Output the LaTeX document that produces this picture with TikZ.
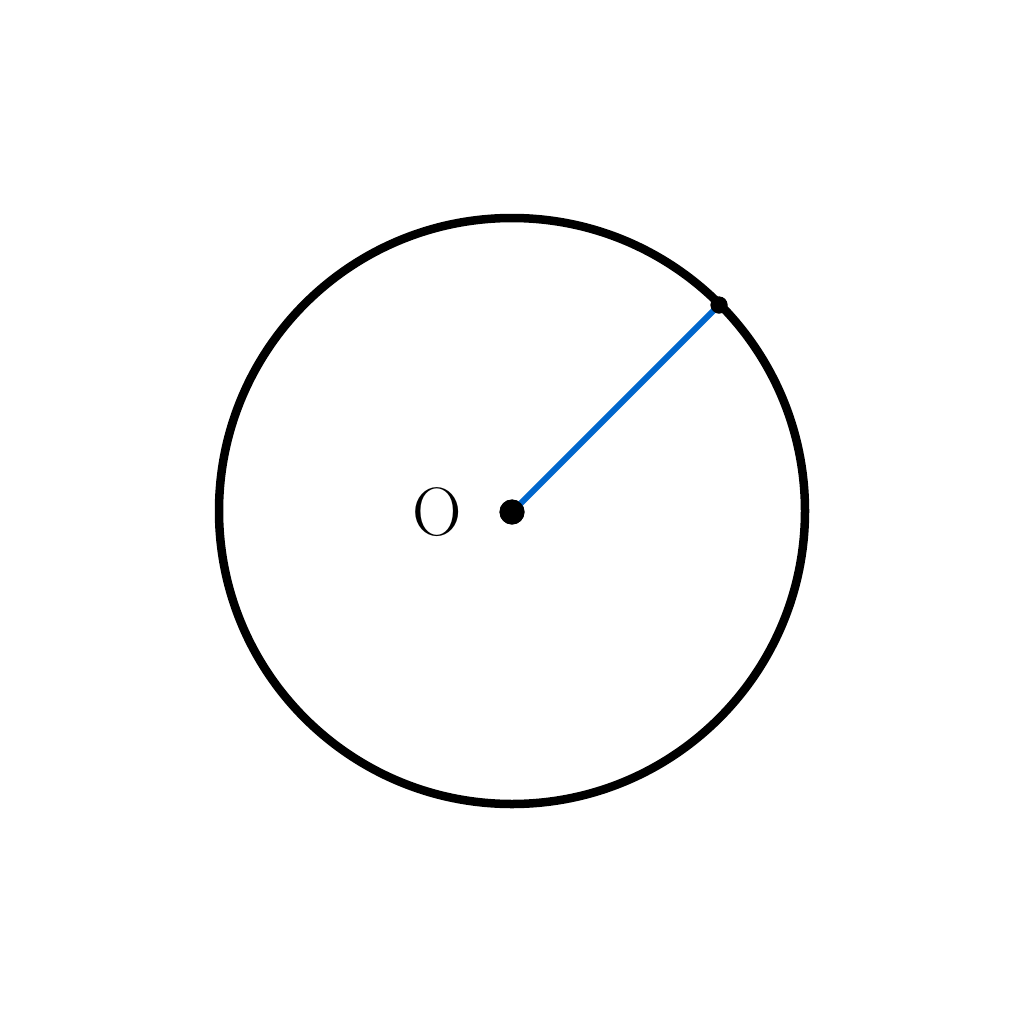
\documentclass[tikz,border=0pt]{standalone}
\definecolor{radblue}{RGB}{0,102,204}
\begin{document}
\begin{tikzpicture}[x=0.01cm,y=-0.01cm,
  rim/.style={draw=black,line width=8.5*0.2845pt},
  radius line/.style={draw=radblue,line width=6*0.2845pt},
  dotfill/.style={circle,fill=black,inner sep=0pt}]
\useasboundingbox (0,0) rectangle (1024,1024);
\node[dotfill,minimum size=25*0.2845pt] (O) at (512,512) {};
\node[dotfill,minimum size=17*0.2845pt] (P) at (719,305) {};
\draw[rim] (512,511) circle[radius=293];
\draw[radius line] (O.center) -- (P.center);
\node[dotfill,minimum size=25*0.2845pt] at (O.center) {};
\node[dotfill,minimum size=17*0.2845pt] at (P.center) {};
\node (lab) at (437,512) {\fontsize{19.5}{22}\selectfont O};
\end{tikzpicture}
\end{document}
